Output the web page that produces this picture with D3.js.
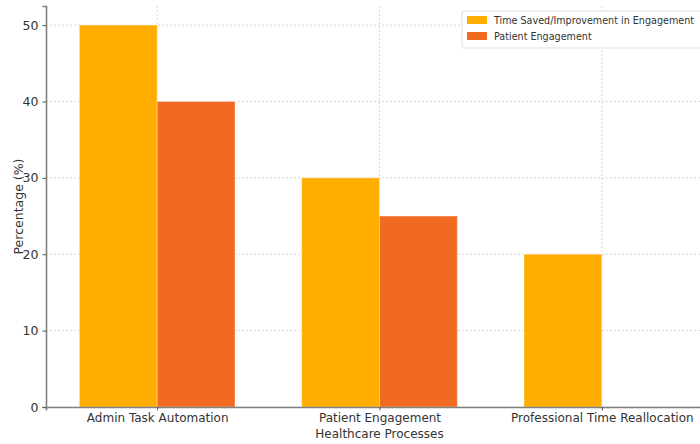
<!DOCTYPE html>
<html>
<head>
<meta charset="utf-8">
<script src="https://cdn.jsdelivr.net/npm/d3@7"></script>
<style>
  body { margin: 0; background: #fff; overflow: hidden; }
  text { font-family: "DejaVu Sans", sans-serif; fill: #333; }
</style>
</head>
<body>
<div id="chart"></div>
<script>
var categories = ["Admin Task Automation", "Patient Engagement", "Professional Time Reallocation"];
var timeSaved = [50, 30, 20];
var engagement = [40, 25, 0];
var seriesNames = ["Time Saved/Improvement in Engagement", "Patient Engagement"];
var yTicks = [0, 10, 20, 30, 40, 50];

var width = 700, height = 444;
var margin = {top: 6, right: -13, bottom: 37, left: 46};
var colors = ["#FFAE00", "#F26A22"];

var svg = d3.select("#chart").append("svg")
    .attr("width", width)
    .attr("height", height);

var innerW = width - margin.left - margin.right,
    innerH = height - margin.top - margin.bottom;

var g = svg.append("g")
    .attr("transform", "translate(" + margin.left + "," + margin.top + ")");

// categories sit at 0..n-1, view runs -0.5..n-0.5
var x = d3.scaleLinear()
    .domain([-0.5, categories.length - 0.5])
    .range([0, innerW]);

var y = d3.scaleLinear()
    .domain([0, 52.5])
    .range([innerH, 0]);

var barW = 0.35;

// grid
g.selectAll(".hgrid")
  .data(yTicks)
  .enter().append("line")
  .attr("x1", 0).attr("x2", innerW)
  .attr("y1", function(d){ return y(d); })
  .attr("y2", function(d){ return y(d); })
  .attr("stroke", "#d9d9d9")
  .attr("stroke-width", 1)
  .attr("stroke-dasharray", "2,2");

g.selectAll(".vgrid")
  .data(categories)
  .enter().append("line")
  .attr("x1", function(d, i){ return x(i); })
  .attr("x2", function(d, i){ return x(i); })
  .attr("y1", 0).attr("y2", innerH)
  .attr("stroke", "#d9d9d9")
  .attr("stroke-width", 1)
  .attr("stroke-dasharray", "2,2");

// bars
var series = [timeSaved, engagement];
series.forEach(function(vals, s) {
  g.selectAll(".bar" + s)
    .data(vals)
    .enter().append("rect")
    .attr("x", function(d, i){ return x(i + (s === 0 ? -barW : 0)); })
    .attr("width", x(barW) - x(0))
    .attr("y", function(d){ return y(d); })
    .attr("height", function(d){ return innerH - y(d); })
    .attr("fill", colors[s])
    .attr("stroke", "rgba(255,255,255,0.35)")
    .attr("stroke-width", 1);
});

// axes
var yAxis = g.append("g")
    .call(d3.axisLeft(y).tickValues(yTicks).tickSize(3.5).tickPadding(4));
var xAxis = g.append("g")
    .attr("transform", "translate(0," + innerH + ")")
    .call(d3.axisBottom(x).tickValues(d3.range(categories.length))
      .tickFormat(function(d){ return categories[d]; })
      .tickSize(3.5).tickPadding(3));

[yAxis, xAxis].forEach(function(a) {
  a.select(".domain").attr("stroke", "#7f7f7f").attr("stroke-width", 1.6);
  a.selectAll(".tick line").attr("stroke", "#555");
  a.selectAll(".tick text").attr("font-size", 12).style("fill", "#333")
    .attr("font-family", "DejaVu Sans");
});
yAxis.selectAll(".tick text").attr("font-size", 12.5);

// axis labels
svg.append("text")
  .attr("x", margin.left + innerW / 2)
  .attr("y", 438)
  .attr("text-anchor", "middle")
  .attr("font-size", 12)
  .text("Healthcare Processes");

svg.append("text")
  .attr("transform", "translate(23," + (margin.top + innerH / 2) + ") rotate(-90)")
  .attr("text-anchor", "middle")
  .attr("font-size", 12.5)
  .text("Percentage (%)");

// legend
var legend = svg.append("g")
    .attr("transform", "translate(462,11)");
legend.append("rect")
  .attr("width", 260).attr("height", 37)
  .attr("rx", 2)
  .attr("fill", "#fff")
  .attr("stroke", "#ddd");
seriesNames.forEach(function(name, i) {
  legend.append("rect")
    .attr("x", 5).attr("y", 5 + i * 16)
    .attr("width", 20).attr("height", 8)
    .attr("fill", colors[i]);
  legend.append("text")
    .attr("x", 32).attr("y", 13 + i * 16)
    .attr("font-size", 9.6)
    .text(name);
});
</script>
</body>
</html>
